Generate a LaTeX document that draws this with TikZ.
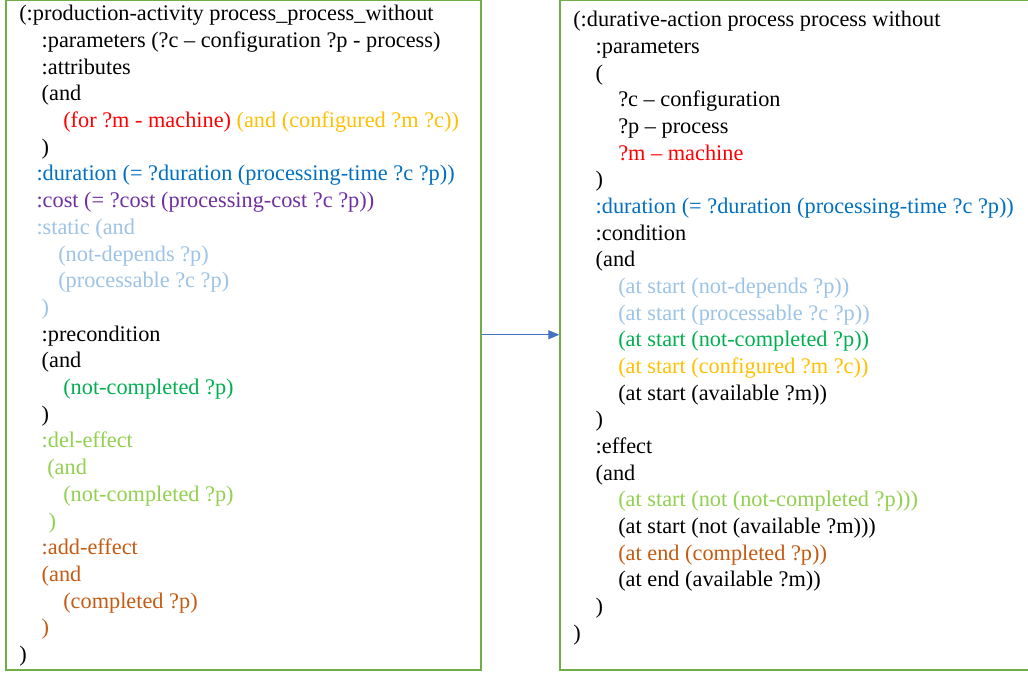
\documentclass[tikz,border=0pt]{standalone}
\usepackage{fontspec}
\setmainfont{Liberation Serif}
\usetikzlibrary{arrows.meta}
\definecolor{boxgreen}{HTML}{70AD47}
\definecolor{arrowblue}{HTML}{4472C4}
\definecolor{cred}{HTML}{FF0000}
\definecolor{cgold}{HTML}{FFC000}
\definecolor{cblue}{HTML}{0070C0}
\definecolor{cpurple}{HTML}{7030A0}
\definecolor{clightblue}{HTML}{9DC3E6}
\definecolor{cgreen}{HTML}{00B050}
\definecolor{clightgreen}{HTML}{92D050}
\definecolor{cbrown}{HTML}{C55A11}
\tikzset{
  codebox/.style={draw=boxgreen, line width=2pt, fill=none, inner sep=0pt},
  arrowline/.style={draw=arrowblue, line width=1.2pt, -{Triangle[length=11pt,width=9pt]}},
  codeline/.style={anchor=base west, inner sep=0pt, outer sep=0pt, font=\fontsize{22.3}{26}\selectfont},
}
\newcommand\LL[4][black]{\node[codeline, text=#1] (l#2) at (#3,{20.7+26.7*(#2-1)}) {#4};}
\newcommand\RL[4][black]{\node[codeline, text=#1] (r#2) at (#3,{26.7+26.67*(#2-1)}) {#4};}
\begin{document}
\begin{tikzpicture}[x=1pt,y=-1pt]
\useasboundingbox (0,0) rectangle (1028,673);
\fill[white] (0,0) rectangle (1028,673);
\node[codebox, minimum width=475pt, minimum height=669.5pt] (L) at (243.5,334.75) {};
\node[codebox, minimum width=469.7pt, minimum height=669.5pt] (R) at (795.15,334.75) {};
\draw[arrowline] (L.east) -- (R.west);
% left box
\LL{1}{19.3}{(:production-activity process\_process\_without}
\LL{2}{41.7}{:parameters (?c – configuration ?p - process)}
\LL{3}{41.7}{:attributes}
\LL{4}{41.7}{(and}
\LL{5}{63.3}{\textcolor{cred}{(for ?m - machine)} \textcolor{cgold}{(and (configured ?m ?c))}}
\LL{6}{41.7}{)}
\LL[cblue]{7}{36.5}{:duration (= ?duration (processing-time ?c ?p))}
\LL[cpurple]{8}{36.5}{:cost (= ?cost (processing-cost ?c ?p))}
\LL[clightblue]{9}{36.5}{:static (and}
\LL[clightblue]{10}{58.3}{(not-depends ?p)}
\LL[clightblue]{11}{58.3}{(processable ?c ?p)}
\LL[clightblue]{12}{41.7}{)}
\LL{13}{41.7}{:precondition}
\LL{14}{41.7}{(and}
\LL[cgreen]{15}{63.3}{(not-completed ?p)}
\LL{16}{41.7}{)}
\LL[clightgreen]{17}{41.7}{:del-effect}
\LL[clightgreen]{18}{47.3}{(and}
\LL[clightgreen]{19}{63.3}{(not-completed ?p)}
\LL[clightgreen]{20}{48.5}{)}
\LL[cbrown]{21}{41.7}{:add-effect}
\LL[cbrown]{22}{41.7}{(and}
\LL[cbrown]{23}{63.3}{(completed ?p)}
\LL[cbrown]{24}{41.7}{)}
\LL{25}{19.3}{)}
% right box
\RL{1}{573.3}{(:durative-action process process without}
\RL{2}{595.7}{:parameters}
\RL{3}{595.7}{(}
\RL{4}{618.3}{?c – configuration}
\RL{5}{618.3}{?p – process}
\RL[cred]{6}{618.3}{?m – machine}
\RL{7}{595.7}{)}
\RL[cblue]{8}{595.7}{:duration (= ?duration (processing-time ?c ?p))}
\RL{9}{595.7}{:condition}
\RL{10}{595.7}{(and}
\RL[clightblue]{11}{618.3}{(at start (not-depends ?p))}
\RL[clightblue]{12}{618.3}{(at start (processable ?c ?p))}
\RL[cgreen]{13}{618.3}{(at start (not-completed ?p))}
\RL[cgold]{14}{618.3}{(at start (configured ?m ?c))}
\RL{15}{618.3}{(at start (available ?m))}
\RL{16}{595.7}{)}
\RL{17}{595.7}{:effect}
\RL{18}{595.7}{(and}
\RL[clightgreen]{19}{618.3}{(at start (not (not-completed ?p)))}
\RL{20}{618.3}{(at start (not (available ?m)))}
\RL[cbrown]{21}{618.3}{(at end (completed ?p))}
\RL{22}{618.3}{(at end (available ?m))}
\RL{23}{595.7}{)}
\RL{24}{573.3}{)}
\end{tikzpicture}
\end{document}
